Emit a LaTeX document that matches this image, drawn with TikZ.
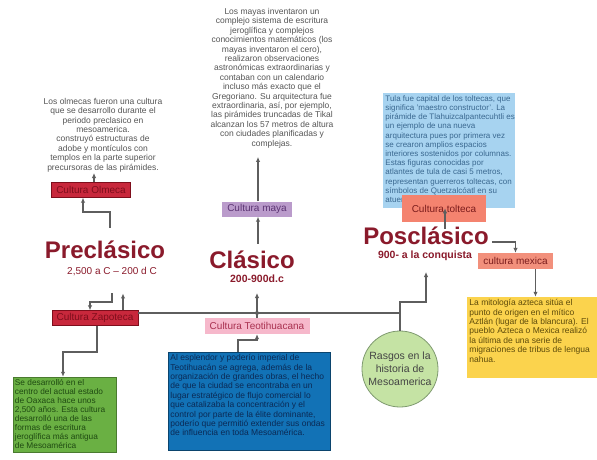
\documentclass[tikz,border=0pt]{standalone}
\usepackage{fontspec}
\setmainfont{Liberation Sans}
\usetikzlibrary{arrows.meta}
\definecolor{linegray}{HTML}{5E5E5E}
\definecolor{bodygray}{HTML}{555555}
\definecolor{eracol}{HTML}{8A1A2B}
\definecolor{olmfill}{HTML}{C8283C}
\definecolor{olmtxt}{HTML}{7E0E1C}
\definecolor{mayafill}{HTML}{BA9BCB}
\definecolor{mayatxt}{HTML}{5C3473}
\definecolor{teofill}{HTML}{F6B8CB}
\definecolor{teotxt}{HTML}{A8304F}
\definecolor{tolfill}{HTML}{F4836F}
\definecolor{meshfill}{HTML}{F2907C}
\definecolor{saltxt}{HTML}{7B1C1C}
\definecolor{skyfill}{HTML}{A7D3F0}
\definecolor{skytxt}{HTML}{3A6890}
\definecolor{sunfill}{HTML}{FBD34D}
\definecolor{suntxt}{HTML}{5E4B0A}
\definecolor{leaffill}{HTML}{6AB043}
\definecolor{leaftxt}{HTML}{1F4A12}
\definecolor{seafill}{HTML}{1272B6}
\definecolor{seatxt}{HTML}{0B2A55}
\definecolor{hubfill}{HTML}{C5E3A4}
\definecolor{hubdraw}{HTML}{7F9A70}
\tikzset{edge/.style={draw=linegray,line width=1.1pt,-{Latex[length=5pt,width=4.5pt]}}}
\tikzset{link/.style={draw=linegray,line width=1.1pt}}
\tikzset{era/.style={font=\fontsize{24}{26}\selectfont\bfseries,text=eracol,inner sep=1pt}}
\tikzset{period/.style={font=\fontsize{10.5}{12}\selectfont\bfseries,text=eracol,inner sep=1pt}}
\tikzset{tag/.style={rectangle,inner sep=0pt,font=\fontsize{10}{12}\selectfont}}
\tikzset{card/.style={rectangle,inner sep=0pt,line width=0.5pt}}
\tikzset{cardtext/.style={anchor=north west,align=left,inner sep=2.5pt,font=\fontsize{8.5}{9.4}\selectfont}}
\tikzset{blurb/.style={align=center,inner sep=1pt,font=\fontsize{8.5}{9.4}\selectfont,text=bodygray}}

\begin{document}
\begin{tikzpicture}[x=1pt,y=-1pt]
  \fill[white] (0,0) rectangle (597,459);
  \useasboundingbox (0,0) rectangle (597,459);

  \node[blurb] (olmtext) at (103,135) {Los olmecas fueron una cultura\\que se desarrollo durante el\\periodo preclasico en\\mesoamerica.\\construyó estructuras de\\adobe y montículos con\\templos en la parte superior\\precursoras de las pirámides.};
  \node[tag,fill=olmfill,draw=olmtxt,text=olmtxt,minimum width=79pt,minimum height=15pt] (olmeca) at (91,190) {Cultura Olmeca};
  \node[era] (pre) at (105,250) {Preclásico};
  \node[font=\fontsize{10}{12}\selectfont,text=eracol,inner sep=1pt] (presub) at (112,272) {2,500 a C – 200 d C};
  \node[tag,fill=olmfill,draw=olmtxt,text=olmtxt,minimum width=86pt,minimum height=15pt] (zap) at (95,318) {Cultura Zapoteca};
  \node[card,fill=leaffill,draw=leaffill!70!black,minimum width=103pt,minimum height=75pt] (zapbox) at (64.5,414.5) {};
  \node[cardtext,text=leaftxt,inner sep=2pt,font=\fontsize{8.3}{9.1}\selectfont] (zaptext) at (zapbox.north west) {Se desarrolló en el\\centro del actual estado\\de Oaxaca hace unos\\2,500 años. Esta cultura\\desarrolló una de las\\formas de escritura\\jeroglífica más antigua\\de Mesoamérica};

  \node[blurb] (mayatext) at (272,78) {Los mayas inventaron un\\complejo sistema de escritura\\jeroglífica y complejos\\conocimientos matemáticos (los\\mayas inventaron el cero),\\realizaron observaciones\\astronómicas extraordinarias y\\contaban con un calendario\\incluso más exacto que el\\Gregoriano. Su arquitectura fue\\extraordinaria, así, por ejemplo,\\las pirámides truncadas de Tikal\\alcanzan los 57 metros de altura\\con ciudades planificadas y\\complejas.};
  \node[tag,fill=mayafill,text=mayatxt,minimum width=70pt,minimum height=15pt] (maya) at (257,209) {Cultura maya};
  \node[era] (cla) at (252,260) {Clásico};
  \node[period] (clasub) at (257,279) {200-900d.c};
  \node[tag,fill=teofill,text=teotxt,minimum width=105pt,minimum height=16pt] (teo) at (257,326) {Cultura Teotihuacana};
  \node[card,fill=seafill,draw=seafill!60!black,minimum width=162pt,minimum height=98pt] (teobox) at (249,401) {};
  \node[cardtext,text=seatxt] (teotext) at (teobox.north west) {Al esplendor y poderío imperial de\\Teotihuacán se agrega, además de la\\organización de grandes obras, el hecho\\de que la ciudad se encontraba en un\\lugar estratégico de flujo comercial lo\\que catalizaba la concentración y el\\control por parte de la élite dominante,\\poderío que permitió extender sus ondas\\de influencia en toda Mesoamérica.};

  \node[card,fill=skyfill,minimum width=132pt,minimum height=115pt] (tolbox) at (449,150.5) {};
  \node[cardtext,text=skytxt,font=\fontsize{8}{9.2}\selectfont] (toltext) at (tolbox.north west) {Tula fue capital de los toltecas, que\\significa 'maestro constructor'. La\\pirámide de Tlahuizcalpantecuhtli es\\un ejemplo de una nueva\\arquitectura pues por primera vez\\se crearon amplios espacios\\interiores sostenidos por columnas.\\Estas figuras conocidas por\\atlantes de tula de casi 5 metros,\\representan guerreros toltecas, con\\símbolos de Quetzalcóatl en su\\atuendo de guerra.};
  \node[tag,fill=tolfill,text=saltxt,minimum width=84pt,minimum height=27pt] (tolteca) at (444,208.5) {Cultura tolteca};
  \node[era] (pos) at (426,236) {Posclásico};
  \node[period] (possub) at (425,256) {900- a la conquista};
  \node[tag,fill=meshfill,text=saltxt,minimum width=75pt,minimum height=16pt] (mexica) at (515.5,261) {cultura mexica};
  \node[card,fill=sunfill,minimum width=130pt,minimum height=81pt] (sunbox) at (532,337.5) {};
  \node[cardtext,text=suntxt] (suntext) at (sunbox.north west) {La mitología azteca sitúa el\\punto de origen en el mítico\\Aztlán (lugar de la blancura). El\\pueblo Azteca o Mexica realizó\\la última de una serie de\\migraciones de tribus de lengua\\nahua.};

  \node[circle,fill=hubfill,draw=hubdraw,line width=0.8pt,minimum size=76pt,inner sep=0pt,align=center,text=bodygray!80!black,font=\fontsize{10.5}{13}\selectfont] (rasgos) at (400,369) {Rasgos en la\\historia de\\Mesoamerica};

  \coordinate (b1) at (83,212);
  \coordinate (b2) at (112,302);
  \coordinate (b3) at (63,352);
  \coordinate (hub) at (400,313);
  \coordinate (b4) at (426,302);
  \coordinate (b5) at (426,272);
  \coordinate (b6) at (257,340);
  \coordinate (o1) at ([xshift=3pt]olmeca.north);
  \coordinate (p1) at ([xshift=19pt,yshift=-3pt]pos.north);
  \coordinate (m1) at ([xshift=20pt]mexica.south);

  \draw[edge] (o1) -- (o1 |- olmtext.south);
  \draw[edge] ([xshift=5pt,yshift=12pt]pre.north) |- (b1) -- (b1 |- olmeca.south);
  \draw[edge] ([yshift=-16pt]presub.south) -- (b2) -| ([xshift=-5pt]zap.north);
  \draw[edge] ([xshift=28pt]zap.north) -- ([xshift=11pt,yshift=-16pt]presub.south);
  \draw[edge] ([xshift=2pt]zap.south) |- (b3) -- (b3 |- zapbox.north);
  \draw[link] (hub) -- (zap.east |- hub);
  \draw[edge] (rasgos.north) |- (b4) -- (b5);
  \draw[edge] (teo.north) -- ([yshift=-9pt]clasub.south);
  \fill[linegray] (teo.north |- hub) circle (2pt);
  \draw[edge] ([xshift=-11pt]teobox.north) |- (b6) -- (teo.south);
  \draw[edge] ([xshift=6pt,yshift=6pt]cla.north) -- ([xshift=1pt]maya.south);
  \draw[edge,shorten >=8pt] ([xshift=1pt]maya.north) -- ([xshift=1pt]maya.north |- mayatext.south);
  \draw[edge] (p1) -- (p1 |- tolbox.south);
  \draw[edge] ([xshift=2pt,yshift=-6pt]pos.east) -| (mexica.north);
  \draw[edge] (m1) -- (m1 |- sunbox.north);
\end{tikzpicture}
\end{document}
